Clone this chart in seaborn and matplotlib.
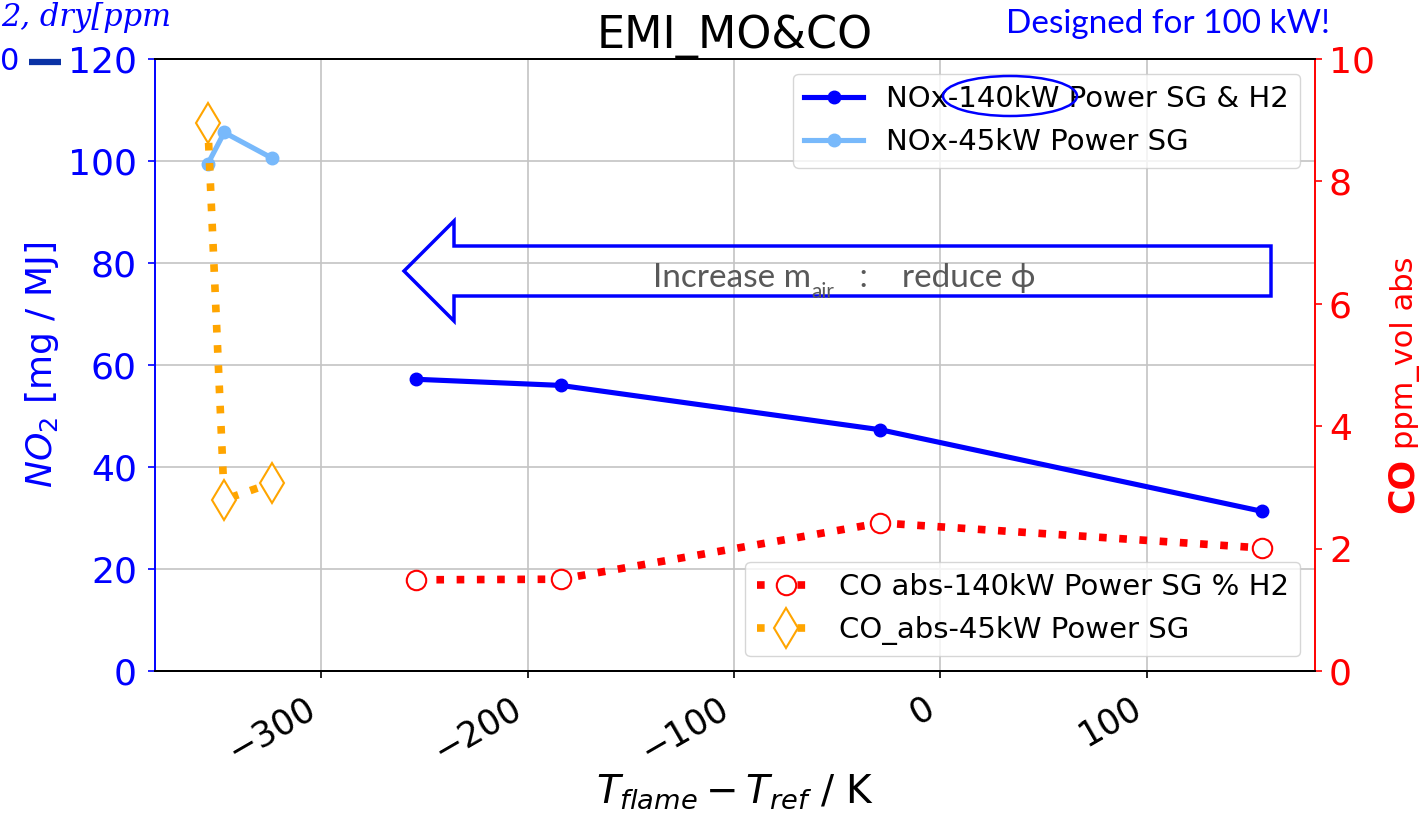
import matplotlib
matplotlib.use("Agg")
import matplotlib.pyplot as plt
import seaborn as sns
from matplotlib.patches import Polygon, Ellipse
from matplotlib.lines import Line2D
from matplotlib.text import Annotation

# ---------------- data ----------------
dt_140 = [-254, -184, -29, 156]
nox_140 = [57.2, 56.0, 47.3, 31.3]
co_140 = [1.49, 1.50, 2.42, 2.01]

dt_45 = [-355, -347, -324]
nox_45 = [99.4, 105.6, 100.6]
co_45 = [8.96, 2.80, 3.07]

labels_nox = ["NOx-140kW Power SG & H2", "NOx-45kW Power SG"]
labels_co = ["CO abs-140kW Power SG % H2", "CO_abs-45kW Power SG"]
title = "EMI_MO&CO"
x_ticks = [-300, -200, -100, 0, 100]
y_left_ticks = [0, 20, 40, 60, 80, 100, 120]
y_right_ticks = [0, 2, 4, 6, 8, 10]

W, H = 1421, 817
fig = plt.figure(figsize=(W / 100, H / 100), dpi=100)
ax1 = fig.add_axes([155 / W, 1 - 671 / H, (1315 - 155) / W, (671 - 59) / H])
ax2 = ax1.twinx()

BLUE = "#0000ff"
LBLUE = "#78b9fb"
RED = "#ff0000"
ORANGE = "#ffa500"

sns.lineplot(x=dt_140, y=nox_140, ax=ax1, color=BLUE, linewidth=3.7, marker="o",
             markersize=9, markeredgecolor=BLUE, markeredgewidth=1,
             label=labels_nox[0], legend=False, sort=False, errorbar=None)
sns.lineplot(x=dt_45, y=nox_45, ax=ax1, color=LBLUE, linewidth=3.7, marker="o",
             markersize=9, markeredgecolor=LBLUE, markeredgewidth=1,
             label=labels_nox[1], legend=False, sort=False, errorbar=None)

sns.lineplot(x=dt_140, y=co_140, ax=ax2, color=RED, linewidth=5.5, linestyle=":",
             marker="o", markersize=14, markerfacecolor="white",
             markeredgecolor=RED, markeredgewidth=1.5,
             label=labels_co[0], legend=False, sort=False, errorbar=None)
sns.lineplot(x=dt_45, y=co_45, ax=ax2, color=ORANGE, linewidth=5.5, linestyle=":",
             marker="d", markersize=20, markerfacecolor="white",
             markeredgecolor=ORANGE, markeredgewidth=1.5,
             label=labels_co[1], legend=False, sort=False, errorbar=None)

# axes
ax1.set_ylim(0, 120)
ax2.set_ylim(0, 10)
ax1.set_yticks(y_left_ticks)
ax2.set_yticks(y_right_ticks)
ax1.set_xticks(x_ticks)
ax1.grid(True, color="#c4c4c4", linewidth=1.2)
ax2.grid(False)

for a in (ax1, ax2):
    for s in a.spines.values():
        s.set_linewidth(1.4)
ax1.spines["left"].set_color(BLUE)
ax1.spines["right"].set_visible(False)
ax2.spines["left"].set_visible(False)
ax2.spines["right"].set_color(RED)

ax1.tick_params(axis="y", colors=BLUE, labelsize=26, pad=8, width=1.2, length=5)
ax2.tick_params(axis="y", colors=RED, labelsize=26, pad=5, width=1.2, length=5)
ax1.tick_params(axis="x", labelsize=25, pad=9, width=1.2, length=5)
plt.setp(ax1.get_xticklabels(), rotation=30, ha="right")

ax1.set_title(title, fontsize=32, pad=8)
ax1.set_xlabel(r"$T_{flame} - T_{ref}$ / K", fontsize=28)
ax1.xaxis.set_label_coords(0.5, -0.165)
ax1.set_ylabel(r"$NO_2$ [mg / MJ]", color=BLUE, fontsize=26)
ax1.yaxis.set_label_coords(-0.081, 0.5)
ax2.set_ylabel("")

fig.text(1413 / W, 1 - 485 / H, "CO", rotation=90, rotation_mode="anchor",
         ha="center", va="baseline", weight="bold", fontsize=25, color=RED)
fig.text(1413 / W, 1 - 353 / H, "ppm_vol abs", rotation=90, rotation_mode="anchor",
         ha="center", va="baseline", fontsize=22, color=RED)

# legends
h1, l1 = ax1.get_legend_handles_labels()
h2, l2 = ax2.get_legend_handles_labels()
leg1 = ax2.legend(h1, l1, loc="upper right", fontsize=21)
ax2.add_artist(leg1)
ax2.legend(h2, l2, loc="lower right", fontsize=21)

# ---------------- overlay annotations ----------------
def fx(px):
    return px / W

def fy(py):
    return 1 - py / H

arrow_px = [(404, 271), (454, 221), (454, 246), (1271, 246), (1271, 296),
            (454, 296), (454, 321)]
fig.add_artist(Polygon([(fx(x), fy(y)) for x, y in arrow_px], closed=True,
                       transform=fig.transFigure, fill=False,
                       edgecolor=BLUE, linewidth=2.5, zorder=5))

GRAY = "#595959"
FAM = ["Lato", "DejaVu Sans"]
t1 = fig.text(fx(653), fy(287), "Increase m", family=FAM, fontsize=24,
              color=GRAY, ha="left", va="baseline", zorder=6)
t2 = Annotation("air", xy=(1, fy(298)), xycoords=(t1, "figure fraction"),
                family=FAM, fontsize=15, color=GRAY, ha="left", va="baseline",
                zorder=6)
fig.add_artist(t2)
t3 = Annotation("   :    reduce \u03d5", xy=(1, fy(287)), xycoords=(t2, "figure fraction"),
                family=FAM, fontsize=24, color=GRAY, ha="left", va="baseline",
                zorder=6)
fig.add_artist(t3)

fig.add_artist(Ellipse((fx(1010), fy(96)), 134 / W, 40 / H,
                       transform=fig.transFigure, fill=False,
                       edgecolor=BLUE, linewidth=1.8, zorder=7))

fig.text(fx(1006), fy(33), "Designed for 100 kW!", family=FAM, fontsize=24,
         color=BLUE, ha="left", va="baseline")

fig.text(fx(1), fy(26), "2, dry[ppm", family="DejaVu Serif", style="italic",
         fontsize=22, color=BLUE, ha="left", va="baseline")
fig.text(fx(0), fy(62), "0", fontsize=22, color=BLUE, ha="left", va="center")
fig.add_artist(Line2D([fx(29), fx(61)], [fy(62), fy(62)], transform=fig.transFigure,
                      color="#0a32a5", linewidth=4.5, solid_capstyle="butt"))

fig.savefig("out.png", dpi=100)
